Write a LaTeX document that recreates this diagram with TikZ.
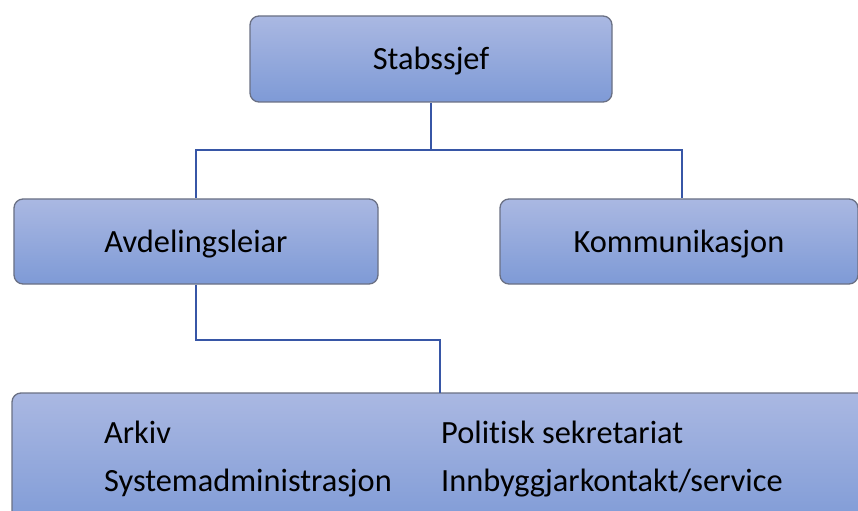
\documentclass[tikz,border=0pt]{standalone}
\usepackage{fontspec}
\setmainfont{Carlito}[Ligatures=NoCommon]
\definecolor{boxtop}{HTML}{AAB8E2}
\definecolor{boxbot}{HTML}{7E9AD6}
\definecolor{boxedge}{HTML}{6A7084}
\definecolor{conn}{HTML}{3756A6}
\tikzset{
  orgbox/.style={draw=boxedge, line width=1.3bp, rounded corners=9bp, top color=boxtop, bottom color=boxbot, inner sep=0pt},
  conline/.style={draw=conn, line width=2.8bp},
  lbl/.style={font=\fontsize{32.5}{38}\selectfont, text=black, inner sep=0pt}
}
\begin{document}
\begin{tikzpicture}[x=1bp,y=-1bp]
\useasboundingbox (0,0) rectangle (858,511);
\begin{scope}
\clip (0,0) rectangle (858,511);
\coordinate (s1) at (431,150);
\coordinate (s2) at (196,150);
\coordinate (s3) at (682,150);
\coordinate (a1) at (196,340);
\coordinate (a2) at (440,340);
\node[orgbox, minimum width=362bp, minimum height=86bp] (stab) at (431,59) {};
\node[orgbox, minimum width=364bp, minimum height=85bp] (avd) at (196,241.5) {};
\node[orgbox, minimum width=358bp, minimum height=85bp] (kom) at (679,241.5) {};
\filldraw[draw=boxedge, line width=1.3bp, rounded corners=9bp, top color=boxtop, bottom color=boxbot] (12,530) -- (12,393) -- (875,393) -- (875,530);
\coordinate (bot) at (440,393);
\draw[conline] (stab.south) -- (s1) -- (s2) -- (avd.north);
\draw[conline] (s1) -- (s3) -- (s3 |- kom.north);
\draw[conline] (avd.south) -- (a1) -- (a2) -- (bot);
\node[lbl] (t1) at ([yshift=-2.5bp]stab.center) {Stabssjef};
\node[lbl] (t2) at ([yshift=-2.5bp]avd.center) {Avdelingsleiar};
\node[lbl] (t3) at ([yshift=-2.5bp]kom.center) {Kommunikasjon};
\node[lbl, anchor=base west] (t4) at (104,443) {Arkiv};
\node[lbl, anchor=base west] (t5) at (104,491) {Systemadministrasjon};
\node[lbl, anchor=base west] (t6) at (441,443) {Politisk sekretariat};
\node[lbl, anchor=base west] (t7) at (441,491) {Innbyggjarkontakt/service};
\end{scope}
\end{tikzpicture}
\end{document}
